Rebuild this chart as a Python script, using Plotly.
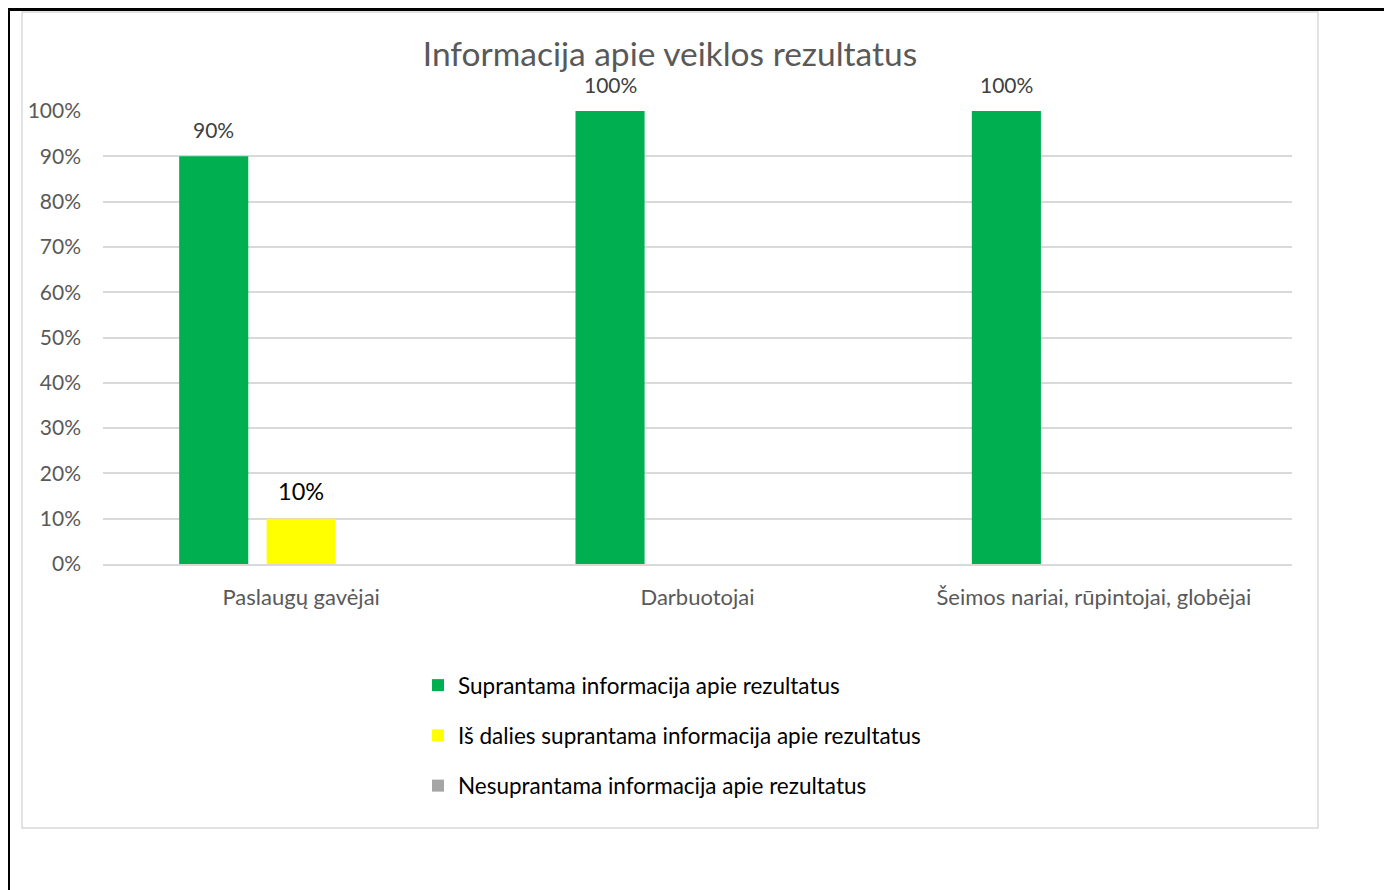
import plotly.graph_objects as go

categories = ["Paslaugų gavėjai", "Darbuotojai", "Šeimos nariai, rūpintojai, globėjai"]
series_names = [
    "Suprantama informacija apie rezultatus",
    "Iš dalies suprantama informacija apie rezultatus",
    "Nesuprantama informacija apie rezultatus",
]
understood = [0.90, 1.00, 1.00]
partly = [0.10, 0.0, 0.0]
not_understood = [0.0, 0.0, 0.0]
y_ticks = [0, 0.1, 0.2, 0.3, 0.4, 0.5, 0.6, 0.7, 0.8, 0.9, 1.0]

colors = ["#00b050", "#ffff00", "#a5a5a5"]
label_fonts = [dict(size=21, color="#404040"), dict(size=23.5, color="#000000"), dict(size=21, color="#404040")]
series_vals = [understood, partly, not_understood]

W, H = 1392, 890
OFF = 8
FONT = "Lato, 'Open Sans', sans-serif"


def px(x):
    return (x - OFF) / W


def py(y):
    return 1 - (y - OFF) / H


fig = go.Figure()
for name, vals, c in zip(series_names, series_vals, colors):
    fig.add_trace(go.Bar(x=categories, y=vals, name=name, marker_color=c,
                         marker_line_width=0, legendgroup=name, hoverinfo="x+y"))

slot_px = 87.5
for i, (vals, lf) in enumerate(zip(series_vals, label_fonts)):
    for cat, v in zip(categories, vals):
        if v > 0:
            fig.add_annotation(x=cat, y=v, text=f"{v:.0%}", showarrow=False,
                               xshift=(i - 1) * slot_px, yshift=12, yanchor="bottom",
                               font=dict(family=FONT, **lf))

fig.update_layout(
    width=W, height=H,
    margin=dict(l=0, r=0, t=0, b=0, pad=0, autoexpand=False),
    paper_bgcolor="white", plot_bgcolor="white",
    barmode="group", bargap=0.338, bargroupgap=0.21,
    title=dict(text="Informacija apie veiklos rezultatus", x=px(670), xanchor="center",
               y=py(54), yanchor="middle",
               font=dict(family=FONT, size=33.5, color="#595959")),
    xaxis=dict(domain=[px(103), px(1292)], showgrid=False, showline=True,
               linecolor="#d9d9d9", linewidth=1.5, ticks="", ticklabelstandoff=13,
               automargin=False, layer="above traces",
               tickfont=dict(family=FONT, size=22, color="#595959")),
    yaxis=dict(domain=[py(564), py(111)], range=[0, 1], tickvals=y_ticks, tickformat=".0%",
               showgrid=True, gridcolor="#d9d9d9", gridwidth=1.5, zeroline=False,
               showline=False, ticks="", ticklabelstandoff=21, automargin=False,
               tickfont=dict(family=FONT, size=21, color="#595959")),
    legend=dict(orientation="v", x=px(418), xanchor="left", y=py(664), yanchor="top",
                tracegroupgap=18, bgcolor="rgba(0,0,0,0)",
                font=dict(family=FONT, size=22.5, color="#000000")),
    showlegend=True,
    shapes=[
        dict(type="rect", xref="paper", yref="paper", x0=px(22), x1=px(1318), y0=py(828), y1=py(12),
             line=dict(color="#d9d9d9", width=1.5), fillcolor="rgba(0,0,0,0)", layer="below"),
        dict(type="rect", xref="paper", yref="paper", x0=px(8.5), x1=px(1420), y0=py(920), y1=py(9.5),
             line=dict(color="#000000", width=3), fillcolor="rgba(0,0,0,0)"),
    ],
)

fig.write_html("out.html")
